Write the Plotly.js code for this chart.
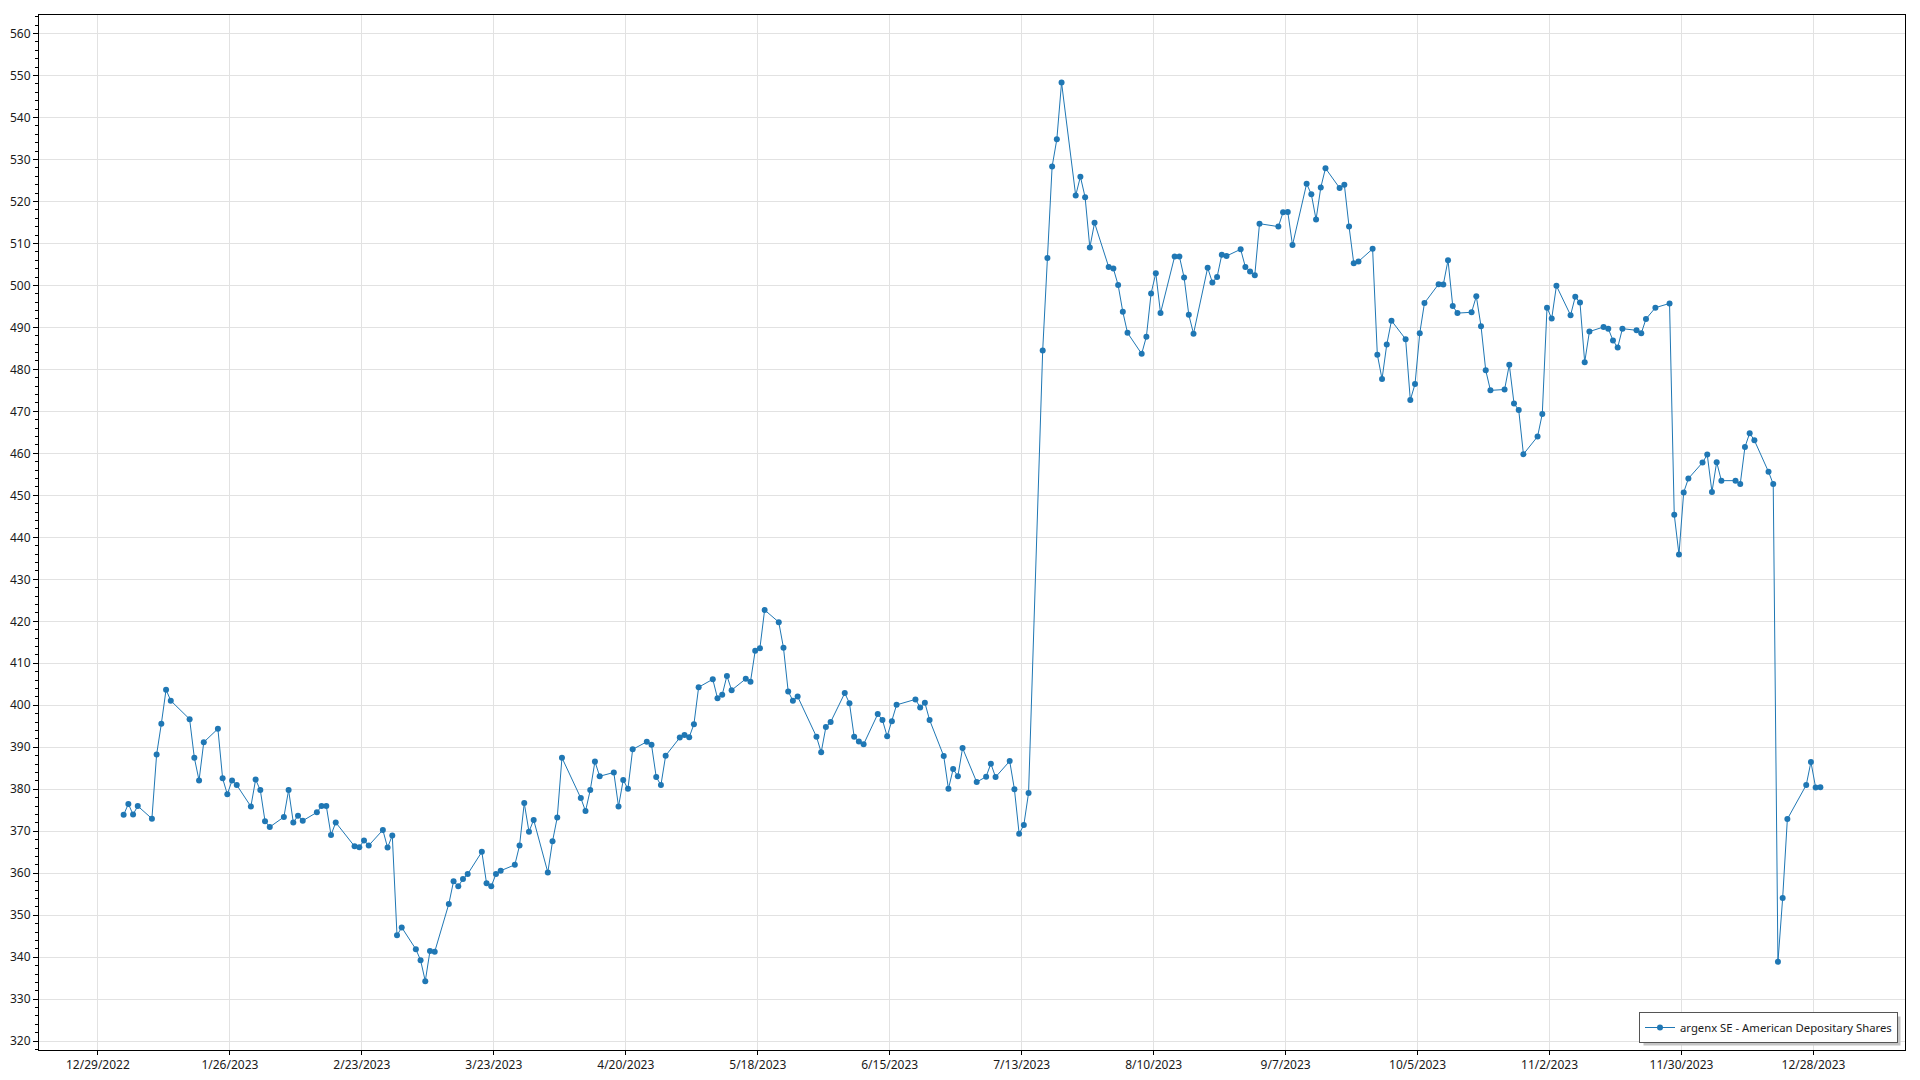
<!DOCTYPE html>
<html>
<head>
<meta charset="utf-8">
<script src="https://cdn.plot.ly/plotly-3.0.1.min.js"></script>
<style>
html,body{margin:0;padding:0;background:#ffffff;}
#chart{width:1920px;height:1080px;}
</style>
</head>
<body>
<div id="chart"></div>
<script>
// ---- data ----
const seriesName = 'argenx SE - American Depositary Shares';
const marketHolidays = ['2023-01-02','2023-01-16','2023-02-20','2023-04-07','2023-05-29',
  '2023-06-19','2023-07-04','2023-09-04','2023-11-23','2023-12-25'];

const priceJan = [373.9,376.5,374.0,376.0,373.0,388.3,395.6,403.7,401.1,396.7,387.5,382.1,391.2,394.4,382.6,378.8,382.1,381.0,375.9,382.3];
const priceFeb = [379.8,372.4,371.0,373.4,379.8,372.1,373.7,372.5,374.5,376.0,376.0,369.1,372.1,366.4,366.2,367.8,366.6,370.3,366.1];
const priceMar = [369.0,345.2,347.1,341.9,339.3,334.3,341.5,341.3,352.7,358.1,356.9,358.6,359.8,365.1,357.6,356.9,359.8,360.6,362.0,366.6,376.7,369.9,372.7];
const priceApr = [360.2,367.6,373.3,387.5,377.9,374.8,379.8,386.6,383.1,384.0,375.9,382.2,380.1,389.5,391.3,390.6,382.9,381.0,388.0];
const priceMay = [392.3,392.9,392.4,395.5,404.3,406.2,401.7,402.5,407.0,403.6,406.3,405.6,413.0,413.6,422.7,419.8,413.7,403.3,401.1,402.1,392.5,388.8];
const priceJun = [394.8,396.0,402.9,400.5,392.5,391.4,390.7,397.9,396.5,392.6,396.2,400.1,401.4,399.5,400.6,396.5,387.9,380.1,384.8,383.1,389.8];
const priceJul = [381.7,383.0,386.1,382.9,386.7,380.0,369.4,371.5,379.1,484.5,506.5,528.3,534.8,548.3,521.4,525.9,521.0,509.0,514.9,504.4];
const priceAug = [504.0,500.1,493.7,488.7,483.7,487.8,498.1,502.9,493.4,506.9,506.9,501.9,493.0,488.5,504.2,500.7,502.0,507.3,507.0,508.6,504.4,503.3,502.4];
const priceSep = [514.7,514.0,517.4,517.5,509.6,524.2,521.7,515.7,523.3,527.9,523.2,524.0,514.0,505.3,505.7,508.7,483.5,477.7,485.9,491.6];
const priceOct = [487.2,472.7,476.5,488.6,495.8,500.3,500.2,506.0,495.1,493.4,493.6,497.4,490.3,479.8,475.0,475.2,481.1,471.9,470.3,459.8,464.0,469.4];
const priceNov = [494.7,492.1,499.9,492.9,497.3,495.9,481.7,489.0,490.1,489.7,486.9,485.2,489.7,489.3,488.6,492.0,494.7,495.7,445.4,435.9,450.7];
const priceDec = [454.0,457.8,459.7,450.8,457.9,453.5,453.5,452.7,461.5,464.8,463.1,455.6,452.7,338.9,354.1,372.9,381.0,386.5,380.4,380.5];

const prices = [].concat(priceJan,priceFeb,priceMar,priceApr,priceMay,priceJun,
  priceJul,priceAug,priceSep,priceOct,priceNov,priceDec);

// trading days of 2023 (weekdays minus market holidays)
const tradingDays = [];
for (let t = Date.UTC(2023,0,1); t <= Date.UTC(2023,11,31); t += 86400000) {
  const d = new Date(t);
  const wd = d.getUTCDay();
  const iso = d.toISOString().slice(0,10);
  if (wd === 0 || wd === 6 || marketHolidays.indexOf(iso) >= 0) continue;
  tradingDays.push(iso + ' 11:00');
}

// ---- layout helpers ----
const W = 1920, H = 1080;
const M = {l:39, r:15, t:15, b:30};
const PW = W - M.l - M.r, PH = H - M.t - M.b;
const px2x = p => (p - M.l) / PW;
const px2y = p => (H - M.b - p) / PH;

const lineColor = '#1f77b4';
const fontFamily = '"Segoe UI", "Noto Sans", "Open Sans", sans-serif';

const trace = {
  type: 'scatter',
  mode: 'lines+markers',
  name: seriesName,
  x: tradingDays,
  y: prices,
  line: {color: lineColor, width: 1},
  marker: {color: lineColor, size: 6},
  showlegend: true
};

const layout = {
  width: W, height: H,
  margin: M,
  paper_bgcolor: '#ffffff',
  plot_bgcolor: '#ffffff',
  font: {family: fontFamily, size: 12, color: '#1a1a1a'},
  showlegend: true,
  xaxis: {
    type: 'date',
    range: ['2022-12-16 12:00', '2024-01-16 10:00'],
    tickmode: 'linear',
    tick0: '2022-12-29',
    dtick: 28 * 86400000,
    tickformat: '%-m/%-d/%Y',
    ticks: 'outside', ticklen: 4, tickcolor: '#000000', tickwidth: 1,
    showgrid: true, gridcolor: '#e2e2e2', gridwidth: 1,
    showline: true, linecolor: '#000000', linewidth: 1, mirror: true,
    zeroline: false,
    tickfont: {family: fontFamily, size: 12, color: '#1a1a1a'}
  },
  yaxis: {
    range: [317.9, 564.4],
    tickmode: 'linear', tick0: 0, dtick: 10,
    ticks: 'outside', ticklen: 5, tickcolor: '#000000', tickwidth: 1,
    minor: {dtick: 2, ticks: 'outside', ticklen: 3, tickcolor: '#000000', showgrid: false},
    showgrid: true, gridcolor: '#e2e2e2', gridwidth: 1,
    showline: true, linecolor: '#000000', linewidth: 1, mirror: true,
    zeroline: false,
    tickfont: {family: fontFamily, size: 12, color: '#1a1a1a'}
  },
  legend: {
    x: px2x(1898), xanchor: 'right',
    y: px2y(1043), yanchor: 'bottom',
    bgcolor: '#ffffff',
    bordercolor: '#555555', borderwidth: 1,
    font: {family: fontFamily, size: 11.3, color: '#1a1a1a'},
    itemwidth: 30
  },
  shapes: [],
  hovermode: false
};

Plotly.newPlot('chart', [trace], layout, {displayModeBar: false, staticPlot: true}).then(gd => {
  // drop shadow behind the legend box, placed from the legend's drawn size
  const bg = gd.querySelector('.legend .bg');
  if (!bg) return;
  const host = gd.getBoundingClientRect();
  const r = bg.getBoundingClientRect();
  const L = r.left - host.left, T = r.top - host.top;
  return Plotly.relayout(gd, {shapes: [{
    type: 'rect', xref: 'paper', yref: 'paper', layer: 'above',
    x0: px2x(L + 4), x1: px2x(L + r.width + 3),
    y0: px2y(T + r.height + 3), y1: px2y(T + 4),
    fillcolor: '#c4c4c4', line: {width: 0}
  }]});
});
</script>
</body>
</html>
